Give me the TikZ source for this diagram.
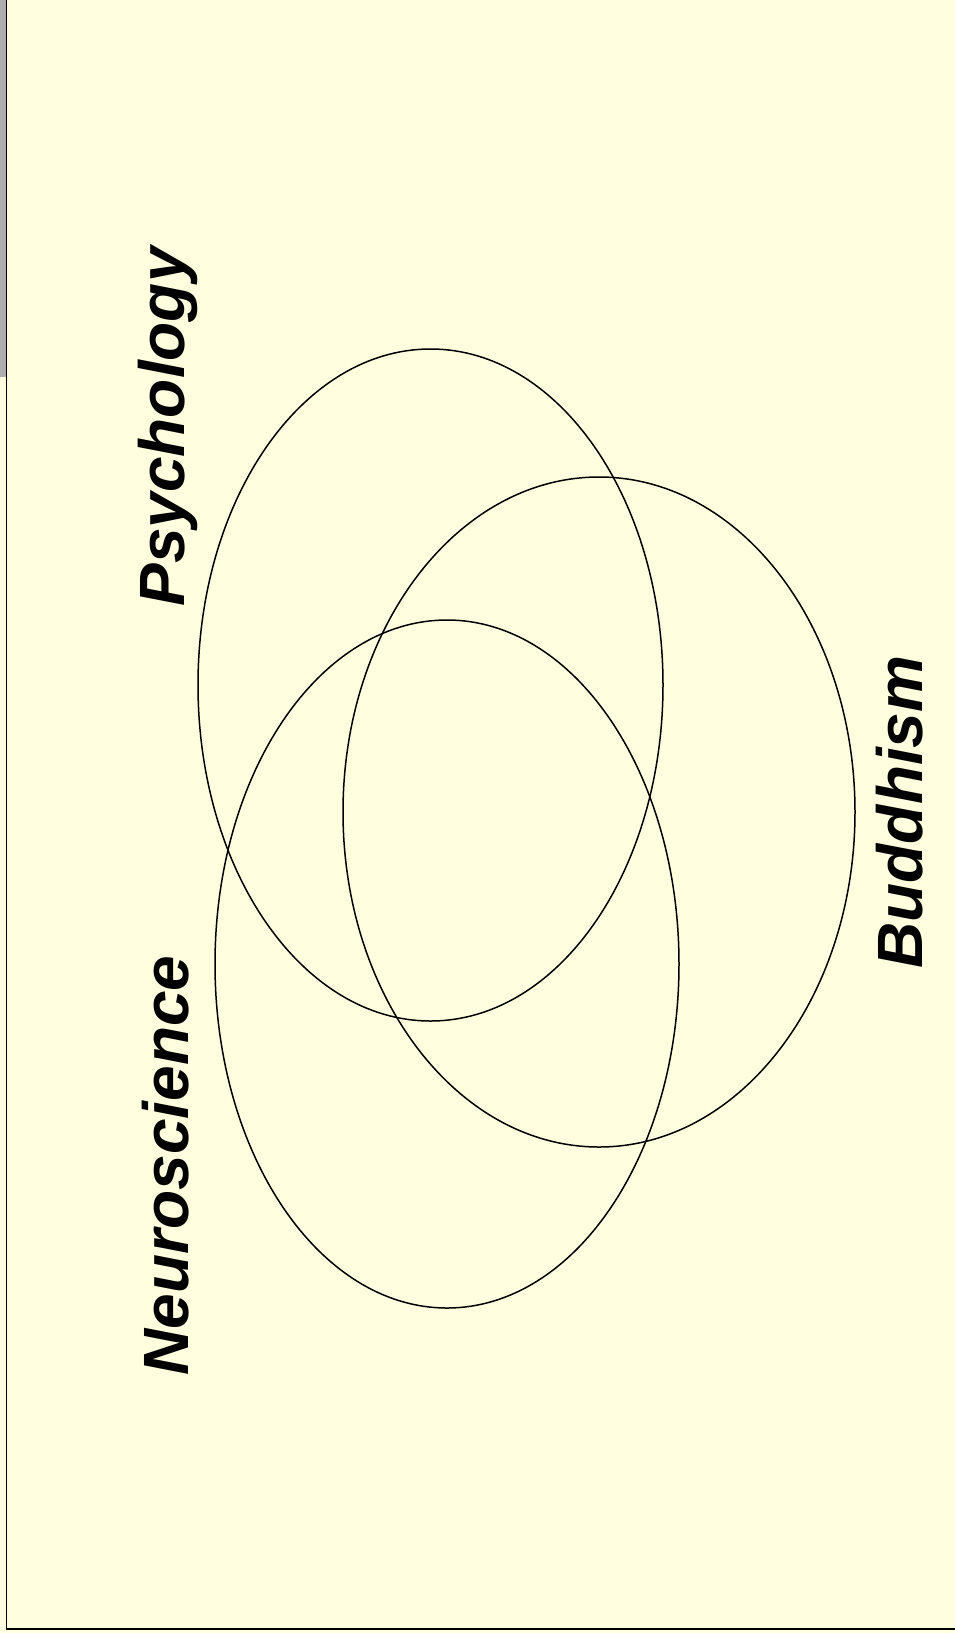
\documentclass[tikz,border=0pt]{standalone}
\usepackage{fontspec}
\setmainfont{Liberation Sans}
\usepackage{xcolor}
\usepackage{tikz}
\usetikzlibrary{positioning}
\definecolor{paper}{HTML}{FFFFE0}
\definecolor{sidebar}{HTML}{AFAFAF}
\begin{document}
\begin{tikzpicture}[x=1pt,y=-1pt,
  field/.style={draw,line width=1.5pt},
  tag/.style={rotate=90,anchor=base,inner sep=0pt,font=\fontsize{64}{70}\selectfont\bfseries\itshape}]
  \useasboundingbox (0,0) rectangle (955,1633);
  \fill[paper] (0,0) rectangle (955,1633);
  \fill[sidebar] (0,0) rectangle (6,377);
  \coordinate (tl) at (6.5,0); \coordinate (bl) at (6.5,1629); \coordinate (br) at (955,1629);
  \draw[line width=1.6pt] (tl) -- (bl) -- (br);
  % the three fields
  \coordinate (psyc) at (430.5,685); \coordinate (budc) at (599,812); \coordinate (neuc) at (447,964);
  \draw[field] (psyc) ellipse [x radius=232.5,y radius=336];
  \draw[field] (budc) ellipse [x radius=256,y radius=335];
  \draw[field] (neuc) ellipse [x radius=232,y radius=344];
  \node[tag] (psy) at (184.5,427) {Psychology};
  \node[tag] (bud) at (922,812) {Buddhism};
  \node[tag] (neu) at (188,1165.5) {Neuroscience};
\end{tikzpicture}
\end{document}
